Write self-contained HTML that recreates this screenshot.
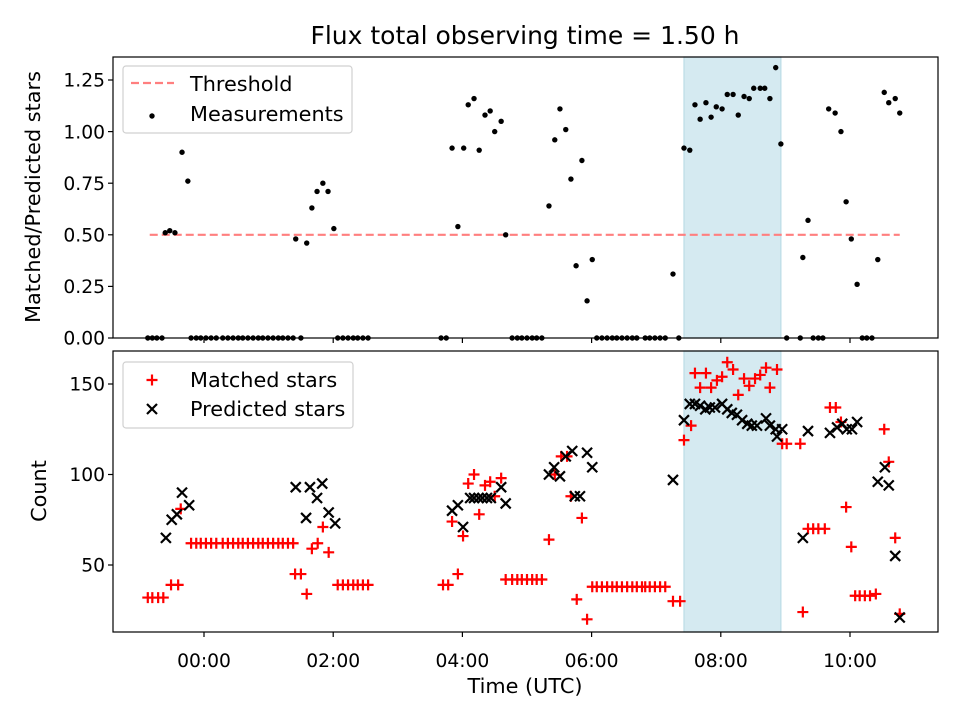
<!DOCTYPE html>
<html><head><meta charset="utf-8"><style>
html,body{margin:0;padding:0;background:#fff;}
svg{display:block;font-family:"DejaVu Sans","Liberation Sans",sans-serif;}
</style></head><body>
<svg id="fig" width="960" height="720" viewBox="0 0 960 720" xmlns="http://www.w3.org/2000/svg"></svg>
<script>
// ---- data ----
const ratioZeroTimes = [-0.87,-0.80,-0.73,-0.65,-0.20,-0.12,-0.05,0.03,0.11,0.19,0.29,0.37,0.45,0.53,0.60,0.68,0.76,0.84,0.91,0.99,1.07,1.15,1.22,1.30,1.38,1.50,2.07,2.15,2.23,2.31,2.38,2.46,2.54,3.67,3.75,4.77,4.85,4.92,5.00,5.08,5.15,5.23,6.08,6.16,6.24,6.32,6.39,6.47,6.55,6.63,6.70,6.83,6.90,6.98,7.06,7.14,7.35,9.02,9.23,9.43,9.51,9.58,10.19,10.26,10.34];
const ratioTimes = [-0.60,-0.53,-0.45,-0.34,-0.25,1.42,1.59,1.67,1.75,1.84,1.92,2.01,3.84,3.93,4.02,4.09,4.18,4.26,4.35,4.43,4.50,4.60,4.67,5.34,5.43,5.51,5.60,5.68,5.76,5.85,5.93,6.01,7.26,7.43,7.52,7.60,7.68,7.77,7.85,7.93,8.02,8.10,8.19,8.27,8.36,8.44,8.51,8.61,8.68,8.76,8.85,8.93,9.27,9.35,9.67,9.77,9.86,9.94,10.02,10.11,10.43,10.53,10.60,10.70,10.77];
const ratioValues = [0.51,0.52,0.51,0.90,0.76,0.48,0.46,0.63,0.71,0.75,0.71,0.53,0.92,0.54,0.92,1.13,1.16,0.91,1.08,1.10,1.00,1.05,0.50,0.64,0.96,1.11,1.01,0.77,0.35,0.86,0.18,0.38,0.31,0.92,0.91,1.13,1.06,1.14,1.07,1.12,1.11,1.18,1.18,1.08,1.17,1.16,1.21,1.21,1.21,1.16,1.31,0.94,0.39,0.57,1.11,1.09,1.00,0.66,0.48,0.26,0.38,1.19,1.14,1.16,1.09];
const matchedTimes = [-0.87,-0.80,-0.71,-0.63,-0.51,-0.40,-0.36,
 -0.20,-0.12,-0.05,0.03,0.11,0.19,0.29,0.37,0.45,0.53,0.60,0.68,0.76,0.84,0.91,0.99,1.07,1.15,1.22,1.30,1.38,
 1.41,1.50,1.59,1.67,1.76,1.84,1.93,2.07,2.15,2.23,2.31,2.38,2.46,2.54,
 3.70,3.78,3.93,3.84,4.01,4.09,4.18,4.26,4.35,4.43,4.50,4.60,
 4.67,4.77,4.85,4.92,5.00,5.08,5.15,5.23,
 5.34,5.43,5.53,5.62,5.68,5.85,5.77,5.93,
 6.01,6.08,6.16,6.24,6.32,6.39,6.47,6.55,6.63,6.70,6.78,6.83,6.90,6.98,7.06,7.14,
 7.26,7.37,7.43,7.54,7.60,7.77,7.68,7.85,7.94,8.02,8.10,8.19,8.27,8.36,8.44,8.53,8.61,8.70,8.76,8.87,
 8.95,9.02,9.23,9.27,9.35,9.43,9.51,9.61,9.69,9.78,9.86,9.94,10.02,10.08,10.15,10.23,10.31,10.40,10.53,10.60,10.70,10.77];
const matchedCounts = [32,32,32,32,39,39,81,
 62,62,62,62,62,62,62,62,62,62,62,62,62,62,62,62,62,62,62,62,62,
 45,45,34,59,62,71,57,39,39,39,39,39,39,39,
 39,39,45,74,66,95,100,78,94,96,88,98,
 42,42,42,42,42,42,42,42,
 64,100,110,110,88,76,31,20,
 38,38,38,38,38,38,38,38,38,38,38,38,38,38,38,38,
 30,30,119,127,156,156,148,148,152,154,162,158,144,153,149,153,155,159,148,158,
 117,117,117,24,70,70,70,70,137,137,129,82,60,33,33,33,33,34,125,107,65,23];
const predictedTimes = [-0.59,-0.50,-0.42,-0.34,-0.23,1.42,1.64,1.83,1.75,1.58,1.93,2.03,
 3.84,3.93,4.01,4.12,4.18,4.25,4.31,4.38,4.44,4.60,4.67,
 5.34,5.42,5.51,5.60,5.70,5.74,5.82,5.93,6.01,7.26,
 7.43,7.52,7.60,7.68,7.76,7.83,7.91,8.02,8.10,8.17,8.25,8.33,8.41,8.48,8.56,8.70,8.76,8.85,8.95,8.87,
 9.27,9.35,9.69,9.80,9.88,9.95,10.03,10.11,10.43,10.54,10.60,10.70,10.77];
const predictedCounts = [65,75,78,90,83,93,93,95,87,76,79,73,
 80,83,71,87,87,87,87,87,87,93,84,
 100,104,99,110,113,88,88,112,104,97,
 130,139,139,138,136,137,137,139,136,134,133,130,128,127,127,131,127,125,125,121,
 65,124,123,126,128,125,125,129,96,104,94,55,21];
const xTickHours = [0,2,4,6,8,10];
const xTickLabels = ["00:00","02:00","04:00","06:00","08:00","10:00"];
const topTicks = [0,0.25,0.5,0.75,1.0,1.25];
const topTickLabels = ["0.00","0.25","0.50","0.75","1.00","1.25"];
const botTicks = [50,100,150];
const threshold = 0.5, thrStart = -0.84, thrEnd = 10.77;
const spanStart = 7.43, spanEnd = 8.93;

// ---- layout ----
const NS="http://www.w3.org/2000/svg";
const svg=document.getElementById('fig');
const L=113,R=938, T1=57,B1=338, T2=351,B2=632;
const FT=18.7, FL=20.8;
const xs=h=>204+64.6*h;
const y1=v=>338-206.4*v;
const y2=c=>565-(c-50)*1.81;
function el(tag,attrs,parent){const e=document.createElementNS(NS,tag);for(const k in attrs)e.setAttribute(k,attrs[k]);(parent||svg).appendChild(e);return e;}
function txt(s,attrs,parent){const e=el('text',attrs,parent);e.textContent=s;return e;}

const title=txt("Flux total observing time = 1.50 h",{x:525,y:44,'text-anchor':'middle','font-size':25});



function panel(top,bot,name){
  const g=el('g',{});
  
  
  el('rect',{x:L,y:top,width:R-L,height:bot-top,fill:'#fff'},g);
  const sp=el('rect',{x:xs(spanStart),y:top,width:xs(spanEnd)-xs(spanStart),height:bot-top,fill:'#d5eaf1',stroke:'#bcdce6','stroke-width':1.2},g);
  
  
  return g;
}
const gTop=panel(T1,B1,'top-panel');
const gBot=panel(T2,B2,'bottom-panel');

const thr=el('line',{x1:xs(thrStart),x2:xs(thrEnd),y1:y1(threshold),y2:y1(threshold),stroke:'#ff7f7f','stroke-width':2.2,'stroke-dasharray':'8,4'},gTop);



function dot(t,v){const c=el('circle',{cx:xs(t),cy:y1(v),r:2.7,fill:'#000'},gTop);
  
  }
ratioZeroTimes.forEach(t=>dot(t,0));
ratioTimes.forEach((t,i)=>dot(t,ratioValues[i]));

function plus(cx,cy,parent,name){const p=el('path',{d:`M${cx-5.5},${cy}H${cx+5.5}M${cx},${cy-5.5}V${cy+5.5}`,stroke:'#ff0000','stroke-width':2.2,fill:'none'},parent);
  
  }
function cross(cx,cy,parent,name){const p=el('path',{d:`M${cx-5},${cy-5}L${cx+5},${cy+5}M${cx-5},${cy+5}L${cx+5},${cy-5}`,stroke:'#000','stroke-width':2.2,fill:'none'},parent);
  
  }
matchedTimes.forEach((t,i)=>plus(xs(t),y2(matchedCounts[i]),gBot,'matched-point'));
predictedTimes.forEach((t,i)=>cross(xs(t),y2(predictedCounts[i]),gBot,'predicted-point'));

[[T1,B1],[T2,B2]].forEach(([a,b])=>{const f=el('rect',{x:L,y:a,width:R-L,height:b-a,fill:'none',stroke:'#000','stroke-width':1.2});
  
  });

xTickHours.forEach((h,i)=>{
  el('line',{x1:xs(h),x2:xs(h),y1:B1,y2:B1+5,stroke:'#000','stroke-width':1.2});
  el('line',{x1:xs(h),x2:xs(h),y1:B2,y2:B2+5,stroke:'#000','stroke-width':1.2});
  const t=txt(xTickLabels[i],{x:xs(h),y:B2+35,'text-anchor':'middle','font-size':FT});
  
  
});
topTicks.forEach((v,i)=>{
  el('line',{x1:L-5,x2:L,y1:y1(v),y2:y1(v),stroke:'#000','stroke-width':1.2});
  const t=txt(topTickLabels[i],{x:L-8,y:y1(v)+6.7,'text-anchor':'end','font-size':FT});
  
  
});
botTicks.forEach(v=>{
  el('line',{x1:L-5,x2:L,y1:y2(v),y2:y2(v),stroke:'#000','stroke-width':1.2});
  const t=txt(String(v),{x:L-8,y:y2(v)+6.7,'text-anchor':'end','font-size':FT});
  
  
});
const xl=txt("Time (UTC)",{x:525,y:693,'text-anchor':'middle','font-size':FL});


const yl1=txt("Matched/Predicted stars",{x:0,y:0,'text-anchor':'middle','font-size':FL,transform:'translate(40,197) rotate(-90)'});


const yl2=txt("Count",{x:0,y:0,'text-anchor':'middle','font-size':FL,transform:'translate(46,491) rotate(-90)'});



function legendBox(x,y,w,h,name){const g=el('g',{});
  
  
  el('rect',{x:x,y:y,width:w,height:h,rx:3,fill:'#fff','fill-opacity':0.8,stroke:'#d0d0d0','stroke-width':1.2},g);return g;}
const lg1=legendBox(123,66,229,67,'top-legend');
el('line',{x1:131,x2:174,y1:83,y2:83,stroke:'#ff7f7f','stroke-width':2.2,'stroke-dasharray':'8,4'},lg1);
txt("Threshold",{x:190,y:91,'font-size':FL},lg1);
el('circle',{cx:152,cy:116,r:2.7,fill:'#000'},lg1);
txt("Measurements",{x:190,y:121,'font-size':FL},lg1);
const lg2=legendBox(123,362,230,66,'bottom-legend');
plus(152,380,lg2,'legend-matched-marker');
txt("Matched stars",{x:190,y:387,'font-size':FL},lg2);
cross(152,409,lg2,'legend-predicted-marker');
txt("Predicted stars",{x:190,y:416,'font-size':FL},lg2);
</script>
</body></html>
